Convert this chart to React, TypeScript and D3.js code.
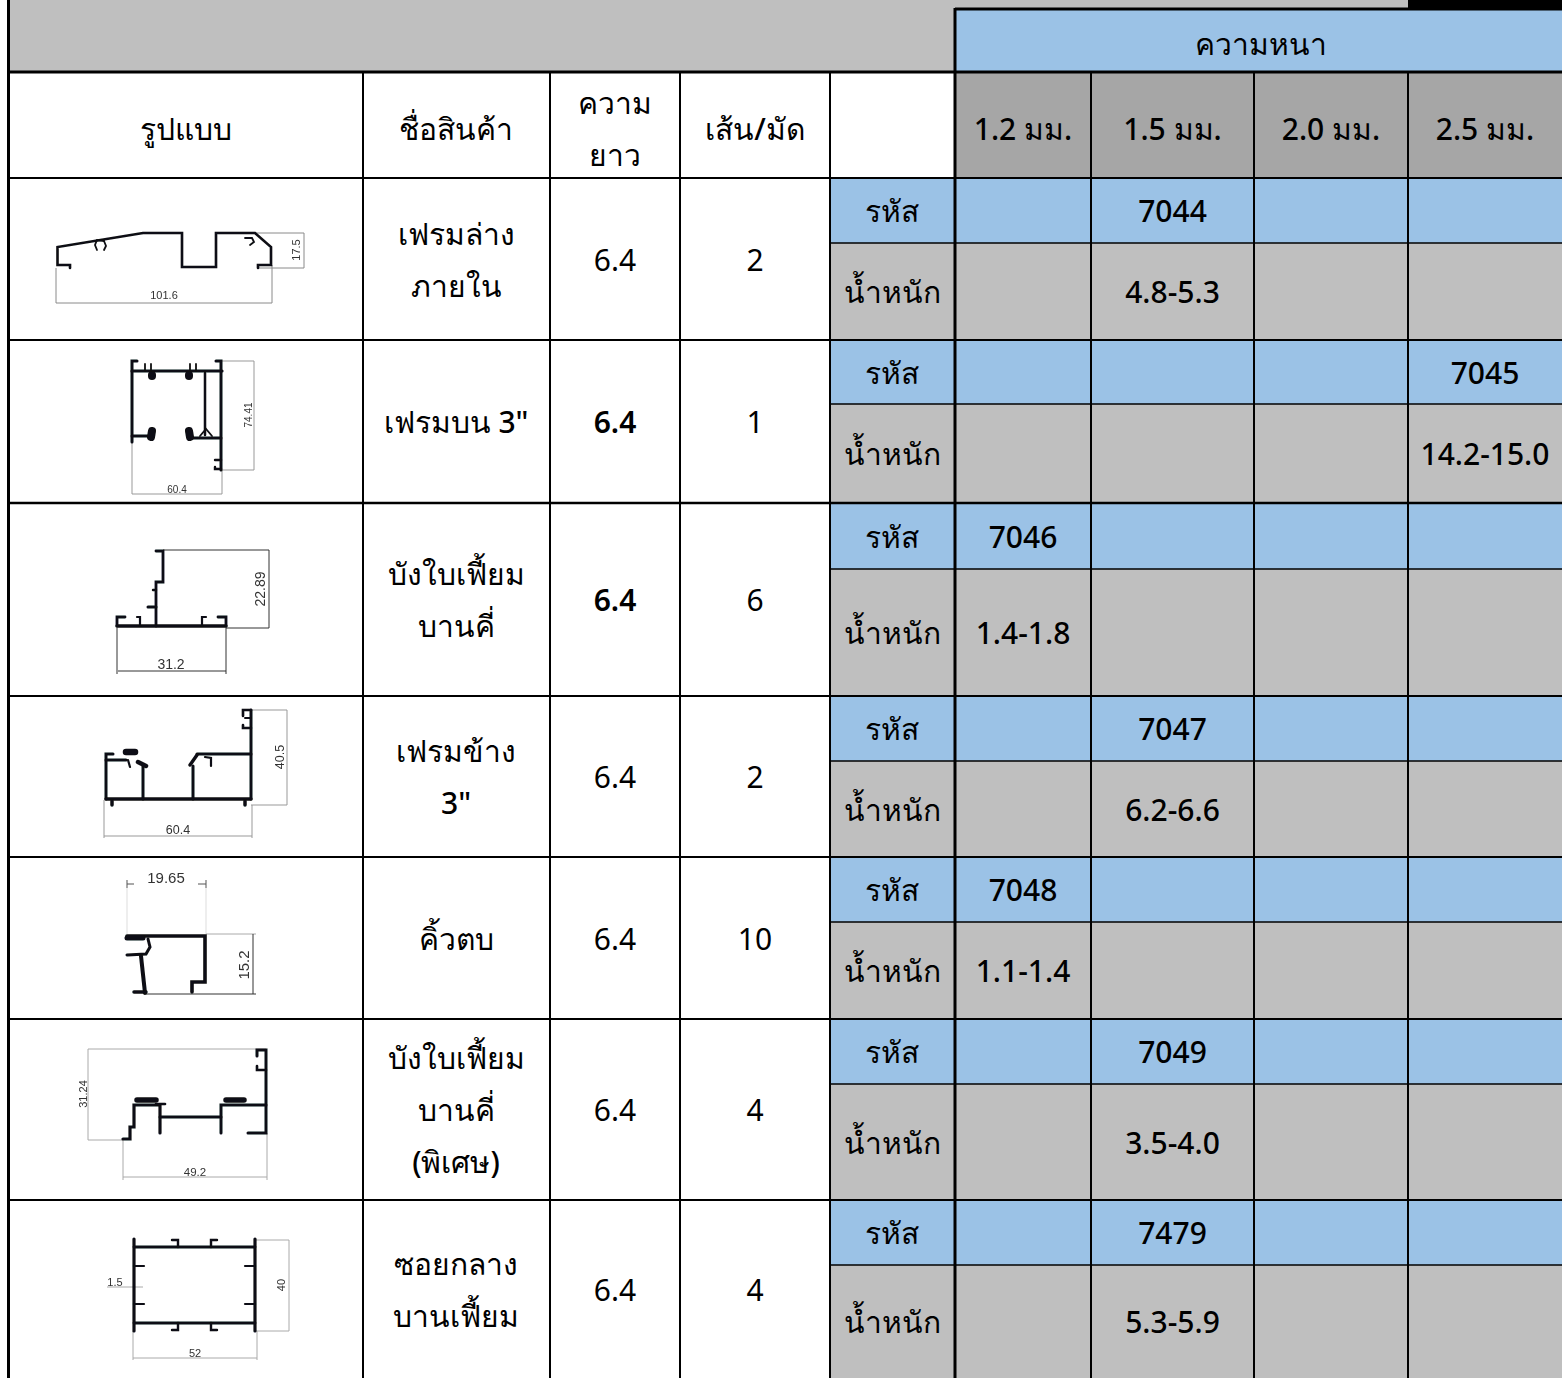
import * as d3 from "d3";

const thicknessLabels = ["1.2 มม.", "1.5 มม.", "2.0 มม.", "2.5 มม."];
const productNames = [
  ["เฟรมล่าง", "ภายใน"],
  ['เฟรมบน 3"'],
  ["บังใบเฟี้ยม", "บานคี่"],
  ["เฟรมข้าง", '3"'],
  ["คิ้วตบ"],
  ["บังใบเฟี้ยม", "บานคี่", "(พิเศษ)"],
  ["ซอยกลาง", "บานเฟี้ยม"],
];
const lengths = ["6.4", "6.4", "6.4", "6.4", "6.4", "6.4", "6.4"];
const lengthBold = [false, true, true, false, false, false, false];
const bundles = ["2", "1", "6", "2", "10", "4", "4"];
const codes = ["7044", "7045", "7046", "7047", "7048", "7049", "7479"];
const weights = ["4.8-5.3", "14.2-15.0", "1.4-1.8", "6.2-6.6", "1.1-1.4", "3.5-4.0", "5.3-5.9"];
const thicknessOfRow = [1, 3, 0, 1, 0, 1, 1];

const W = 1562;
const H = 1378;
const colX = [9, 363, 550, 680, 830, 955, 1091, 1254, 1408, 1562];
const rowTop = [178, 340, 503, 696, 857, 1019, 1200];
const rowMid = [243, 404, 569, 761, 922, 1084, 1265];
const rowBottom = [340, 503, 696, 857, 1019, 1200, 1378];

const BLUE = "#9bc2e6";
const GRAY = "#bfbfbf";
const DARK = "#a6a6a6";
const FONT = "'Noto Sans', 'Open Sans', sans-serif";

const thickScale = d3.scaleBand<number>().domain([0, 1, 2, 3]);
const colCenter = (i: number) => (colX[i] + colX[i + 1]) / 2;
const line = d3.line<number[]>().x((d) => d[0]).y((d) => d[1]);

type Pt = number[];
// profile outlines: [stroke width, points]
const profile1: [number, Pt[]][] = [
  [2.6, [[70, 268], [70, 265], [57.5, 265], [57.5, 247], [143, 233], [182, 233], [182, 267], [216, 267], [216, 233], [255, 233], [271, 247], [271, 265], [258, 265], [258, 268]]],
  [1.8, [[104, 241], [97, 240], [95, 245], [97, 250]]],
  [1.8, [[104, 241], [106, 246], [104, 250]]],
  [1.8, [[245, 238], [252, 238], [254, 242], [250, 245]]],
];
const profile2: [number, Pt[]][] = [
  [3, [[137, 361], [132, 361], [132, 442]]],
  [3.2, [[132, 371], [222, 371]]],
  [3, [[216, 361], [221, 361], [221, 470]]],
  [2.5, [[205, 373], [205, 435]]],
  [3, [[132, 436], [150, 436]]],
  [3, [[190, 438], [221, 438]]],
  [8, [[152, 375], [152, 376]]],
  [8, [[189, 375], [189, 376]]],
  [8, [[152, 431], [151, 437]]],
  [8, [[189, 431], [190, 437]]],
  [1.8, [[145, 371], [145, 364]]],
  [1.8, [[151, 371], [151, 364]]],
  [1.8, [[190, 371], [190, 364]]],
  [1.8, [[196, 371], [196, 364]]],
  [2.4, [[215, 460], [221, 460]]],
  [2.4, [[215, 467], [215, 469], [221, 469]]],
  [1.8, [[200, 436], [206, 429], [212, 436]]],
];
const profile3: [number, Pt[]][] = [
  [2.8, [[156, 551], [163, 551], [163, 582], [156, 582], [156, 626]]],
  [3.4, [[117, 626], [226, 626]]],
  [2.8, [[125, 617], [117, 617], [117, 626]]],
  [2.8, [[218, 617], [226, 617], [226, 626]]],
  [2.2, [[137, 617], [140, 617], [140, 626]]],
  [2.2, [[206, 617], [202, 617], [202, 626]]],
  [3, [[148, 607], [156, 607]]],
  [2.4, [[153, 590], [156, 590]]],
];
const profile4: [number, Pt[]][] = [
  [3, [[113, 754], [106, 754], [106, 799]]],
  [3.4, [[106, 799], [251, 799]]],
  [3, [[251, 710], [251, 799]]],
  [2.6, [[243, 716], [243, 710], [251, 710]]],
  [2.6, [[243, 725], [243, 728], [251, 728]]],
  [2, [[245, 718], [251, 718]]],
  [3, [[106, 760], [126, 760]]],
  [3, [[143, 766], [143, 799]]],
  [3, [[193, 766], [193, 799]]],
  [3, [[197, 754], [251, 754]]],
  [3.4, [[197, 755], [190, 765]]],
  [6.5, [[126, 752], [135, 752]]],
  [4.5, [[138, 762], [146, 766]]],
  [2.2, [[128, 760], [130, 767]]],
  [2.2, [[205, 757], [211, 758], [211, 766]]],
  [3.5, [[112, 801], [112, 805]]],
  [3.5, [[245, 801], [245, 805]]],
];
const profile5: [number, Pt[]][] = [
  [3.6, [[127, 936], [205, 936], [205, 982], [192, 982], [192, 992]]],
  [5, [[127, 938], [143, 938]]],
  [3, [[148, 939], [150, 947], [146, 954], [127, 955]]],
  [4, [[141, 956], [145, 993]]],
  [3.5, [[134, 992], [146, 992]]],
];
const profile6: [number, Pt[]][] = [
  [3, [[257, 1056], [257, 1050], [266, 1050], [266, 1133], [248, 1133]]],
  [2.6, [[257, 1066], [257, 1070], [266, 1070]]],
  [3.2, [[123, 1139], [130, 1139], [130, 1127], [134, 1127], [134, 1105], [160, 1105], [160, 1133]]],
  [3, [[221, 1133], [221, 1105], [266, 1105]]],
  [3, [[160, 1117], [221, 1117]]],
  [5.5, [[137, 1100], [156, 1100]]],
  [5.5, [[226, 1100], [244, 1100]]],
  [2.6, [[156, 1104], [165, 1104]]],
];
const profile7: [number, Pt[]][] = [
  [3.2, [[134, 1239], [134, 1331]]],
  [3.2, [[255, 1239], [255, 1331]]],
  [2.8, [[134, 1247], [255, 1247]]],
  [2.8, [[134, 1323], [255, 1323]]],
  [2.4, [[172, 1240], [178, 1240], [178, 1247]]],
  [2.4, [[217, 1240], [211, 1240], [211, 1247]]],
  [2.4, [[172, 1330], [178, 1330], [178, 1323]]],
  [2.4, [[217, 1330], [211, 1330], [211, 1323]]],
  [2.2, [[134, 1266], [144, 1266]]],
  [2.2, [[134, 1304], [144, 1304]]],
  [2.2, [[245, 1266], [255, 1266]]],
  [2.2, [[245, 1304], [255, 1304]]],
];
const profiles = [profile1, profile2, profile3, profile4, profile5, profile6, profile7];

// dimension lines
const dims: [string, Pt[]][] = [
  ["#8a8a8a", [[56, 268], [56, 303], [272, 303], [272, 265]]],
  ["#8a8a8a", [[255, 233], [304, 233], [304, 268], [258, 268]]],
  ["#999", [[132, 442], [132, 494], [222, 494], [222, 470]]],
  ["#999", [[222, 361], [254, 361], [254, 470], [222, 470]]],
  ["#333", [[163, 550], [269, 550], [269, 628], [226, 628]]],
  ["#333", [[117, 628], [117, 674]]],
  ["#333", [[226, 628], [226, 674]]],
  ["#333", [[118, 671], [226, 671]]],
  ["#999", [[251, 710], [287, 710], [287, 805], [251, 805]]],
  ["#999", [[104, 800], [104, 838]]],
  ["#999", [[252, 805], [252, 838]]],
  ["#999", [[104, 836], [252, 836]]],
  ["#555", [[127, 880], [127, 888]]],
  ["#555", [[127, 884], [134, 884]]],
  ["#555", [[198, 884], [206, 884]]],
  ["#555", [[206, 880], [206, 888]]],
  ["#ddd", [[127, 888], [127, 934]]],
  ["#ddd", [[206, 888], [206, 934]]],
  ["#aaa", [[206, 934], [256, 934]]],
  ["#333", [[146, 994], [256, 994]]],
  ["#333", [[253, 934], [253, 994]]],
  ["#aaa", [[88, 1049], [266, 1049]]],
  ["#aaa", [[88, 1049], [88, 1140], [123, 1140]]],
  ["#aaa", [[123, 1140], [123, 1180]]],
  ["#aaa", [[267, 1133], [267, 1180]]],
  ["#aaa", [[123, 1177], [267, 1177]]],
  ["#aaa", [[255, 1240], [289, 1240], [289, 1331], [255, 1331]]],
  ["#aaa", [[133, 1331], [133, 1360]]],
  ["#aaa", [[257, 1331], [257, 1360]]],
  ["#aaa", [[133, 1358], [257, 1358]]],
  ["#aaa", [[107, 1287], [143, 1287]]],
];
const dimLabels: [string, number, number, number, number][] = [
  ["101.6", 164, 299, 11, 0],
  ["17.5", 300, 250, 11, -90],
  ["60.4", 177, 493, 10, 0],
  ["74.41", 252, 415, 10, -90],
  ["31.2", 171, 669, 14, 0],
  ["22.89", 265, 589, 14, -90],
  ["60.4", 178, 834, 12.5, 0],
  ["40.5", 284, 757, 12.5, -90],
  ["19.65", 166, 883, 15, 0],
  ["15.2", 249, 965, 15, -90],
  ["49.2", 195, 1176, 11.5, 0],
  ["31.24", 87, 1094, 11, -90],
  ["52", 195, 1357, 11, 0],
  ["40", 285, 1285, 11, -90],
  ["1.5", 115, 1286, 11, 0],
];

function Cell({ x, y, size = 30, weight = 500, fill = "#000", children }: any) {
  return (
    <text x={x} y={y} textAnchor="middle" dominantBaseline="central" fontSize={size} fontWeight={weight} fill={fill} fontFamily={FONT}>
      {children}
    </text>
  );
}

export default function App() {
  const thickX = (i: number) => colX[5 + i];
  thickScale.range([0, 1]);

  return (
    <svg width={W} height={H} style={{ position: "absolute", left: 0, top: 0, display: "block" }}>
      <defs>
        <filter id="soft" x="-5%" y="-5%" width="110%" height="110%">
          <feGaussianBlur stdDeviation="0.45" />
        </filter>
      </defs>
      <rect width={W} height={H} fill="#fff" />

      {/* top band */}
      <rect x={9} y={0} width={W} height={72} fill={GRAY} />
      <rect x={1408} y={0} width={154} height={9} fill="#000" />
      <rect x={955} y={9} width={607} height={63} fill={BLUE} />

      {/* thickness header */}
      <rect x={955} y={72} width={607} height={106} fill={DARK} />

      {/* code and weight rows */}
      {rowTop.map((t, i) => (
        <g key={i}>
          <rect x={830} y={t} width={732} height={rowMid[i] - t} fill={BLUE} />
          <rect x={830} y={rowMid[i]} width={732} height={rowBottom[i] - rowMid[i]} fill={GRAY} />
        </g>
      ))}

      {/* grid */}
      <g stroke="#000" fill="none">
        {rowTop.map((t, i) => (
          <line key={i} x1={9} x2={W} y1={t} y2={t} strokeWidth={i === 2 ? 2.6 : 2} />
        ))}
        {rowMid.map((t, i) => (
          <line key={i} x1={830} x2={W} y1={t} y2={t} strokeWidth={1.6} />
        ))}
        <line x1={8} x2={W} y1={72} y2={72} strokeWidth={3} />
        <line x1={955} x2={W} y1={9} y2={9} strokeWidth={3} />
        <line x1={8.5} x2={8.5} y1={0} y2={H} strokeWidth={3} />
        <line x1={955} x2={955} y1={8} y2={H} strokeWidth={3} />
        {[363, 550, 680].map((x) => (
          <line key={x} x1={x} x2={x} y1={72} y2={H} strokeWidth={2} />
        ))}
        <line x1={830} x2={830} y1={72} y2={H} strokeWidth={2} />
        {[1091, 1254, 1408].map((x) => (
          <line key={x} x1={x} x2={x} y1={72} y2={H} strokeWidth={2} />
        ))}
      </g>

      {/* headers */}
      <Cell x={1261} y={43}>ความหนา</Cell>
      <Cell x={186} y={128}>รูปแบบ</Cell>
      <Cell x={456} y={128}>ชื่อสินค้า</Cell>
      <Cell x={615} y={102}>ความ</Cell>
      <Cell x={615} y={154}>ยาว</Cell>
      <Cell x={755} y={128}>เส้น/มัด</Cell>
      {thicknessLabels.map((l, i) => (
        <Cell key={l} x={(thickX(i) + thickX(i + 1)) / 2} y={128}>{l}</Cell>
      ))}

      {/* rows */}
      {productNames.map((lines, i) => {
        const cy = (rowTop[i] + rowBottom[i]) / 2;
        const cx = (thickX(thicknessOfRow[i]) + thickX(thicknessOfRow[i] + 1)) / 2;
        return (
          <g key={i}>
            {lines.map((l, j) => (
              <Cell key={j} x={456} y={cy + (j - (lines.length - 1) / 2) * 52}>{l}</Cell>
            ))}
            <Cell x={615} y={cy} weight={lengthBold[i] ? 600 : 400}>{lengths[i]}</Cell>
            <Cell x={755} y={cy} weight={400}>{bundles[i]}</Cell>
            <Cell x={892} y={(rowTop[i] + rowMid[i]) / 2}>รหัส</Cell>
            <Cell x={892} y={(rowMid[i] + rowBottom[i]) / 2} weight={400}>น้ำหนัก</Cell>
            <Cell x={cx} y={(rowTop[i] + rowMid[i]) / 2}>{codes[i]}</Cell>
            <Cell x={cx} y={(rowMid[i] + rowBottom[i]) / 2}>{weights[i]}</Cell>
          </g>
        );
      })}

      {/* profile drawings */}
      <g filter="url(#soft)">
        {dims.map(([c, pts], i) => (
          <path key={i} d={line(pts) ?? ""} fill="none" stroke={c} strokeWidth={1} />
        ))}
        {profiles.map((p, i) => (
          <g key={i}>
            {p.map(([w, pts], j) => (
              <path key={j} d={line(pts) ?? ""} fill="none" stroke="#0c0f12" strokeWidth={w} strokeLinecap="round" strokeLinejoin="miter" />
            ))}
          </g>
        ))}
        {dimLabels.map(([t, x, y, s, r], i) => (
          <text key={i} x={x} y={y} fontSize={s} textAnchor="middle" fill="#333" fontFamily="'Liberation Sans', Arial, sans-serif" transform={r ? `rotate(${r} ${x} ${y})` : undefined}>
            {t}
          </text>
        ))}
      </g>
    </svg>
  );
}
